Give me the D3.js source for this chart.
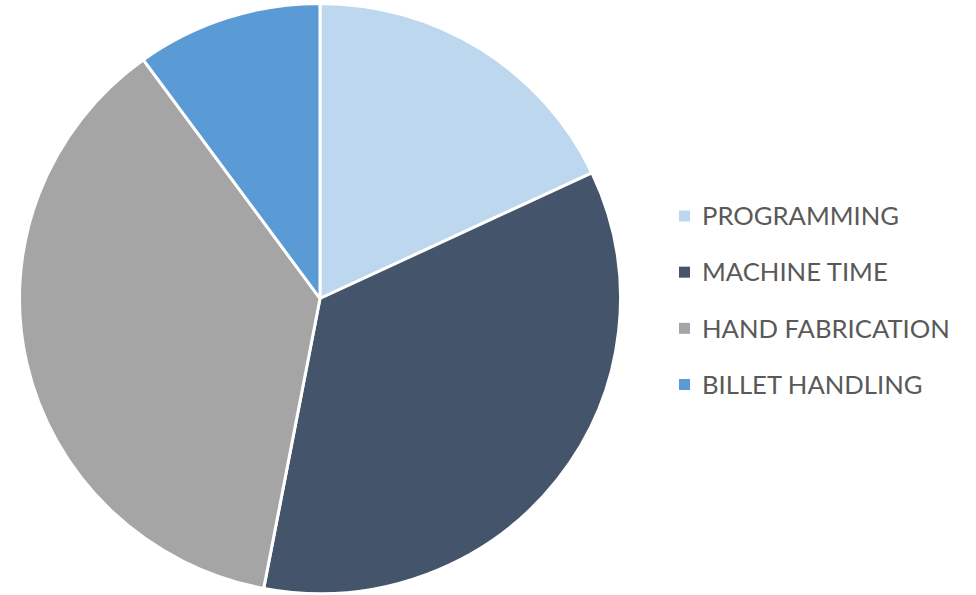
<!DOCTYPE html>
<html>
<head>
<meta charset="utf-8">
<script src="https://cdn.jsdelivr.net/npm/d3@7.9.0/dist/d3.min.js"></script>
<style>
  html, body { margin: 0; padding: 0; background: #fff; }
  svg { display: block; }
  .legend text { font-family: Lato, "Open Sans", sans-serif; fill: #595959; }
</style>
</head>
<body>
<svg id="chart" width="976" height="595"></svg>
<script>
// --- data ---
const categories = ['PROGRAMMING', 'MACHINE TIME', 'HAND FABRICATION', 'BILLET HANDLING'];
const values     = [18, 35, 37, 10];
const palette    = ['#BDD7EE', '#44546A', '#A5A5A5', '#5B9BD5'];

const data = categories.map((c, i) => ({ label: c, value: values[i] }));

// --- layout ---
// outer white stroke eats ~1.5px, so radius is a touch larger than the visible edge
const cx = 320, cy = 298.5, r = 300.5, squash = 0.982;

const svg = d3.select('#chart');
const color = d3.scaleOrdinal(categories, palette);

const pie = d3.pie().value(d => d.value).sort(null);
const arc = d3.arc().innerRadius(0).outerRadius(r);

// pie (slightly squashed vertically like the source image)
const g = svg.append('g')
  .attr('transform', `translate(${cx},${cy}) scale(1,${squash})`);

g.selectAll('path')
  .data(pie(data))
  .join('path')
    .attr('d', arc)
    .attr('fill', d => color(d.data.label))
    .attr('stroke', '#fff')
    .attr('stroke-width', 3)
    .attr('stroke-linejoin', 'round');

// legend
const legendY = d3.scalePoint().domain(categories).range([216, 384.5]);

const legend = svg.append('g').attr('class', 'legend');
const item = legend.selectAll('g')
  .data(data)
  .join('g')
    .attr('transform', d => `translate(679,${legendY(d.label)})`);

item.append('rect')
  .attr('x', 0).attr('y', -5.5)
  .attr('width', 11).attr('height', 11)
  .attr('fill', d => color(d.label));

item.append('text')
  .attr('x', 23)
  .attr('dy', '0.36em')
  .attr('font-size', 23)
  .text(d => d.label);

// fit legend text width to the source (HAND FABRICATION spans ~248px)
const widest = d3.max(item.selectAll('text').nodes(), n => n.getComputedTextLength());
const fs = 23 * 248 / widest;
item.selectAll('text').attr('font-size', fs);
</script>
</body>
</html>
